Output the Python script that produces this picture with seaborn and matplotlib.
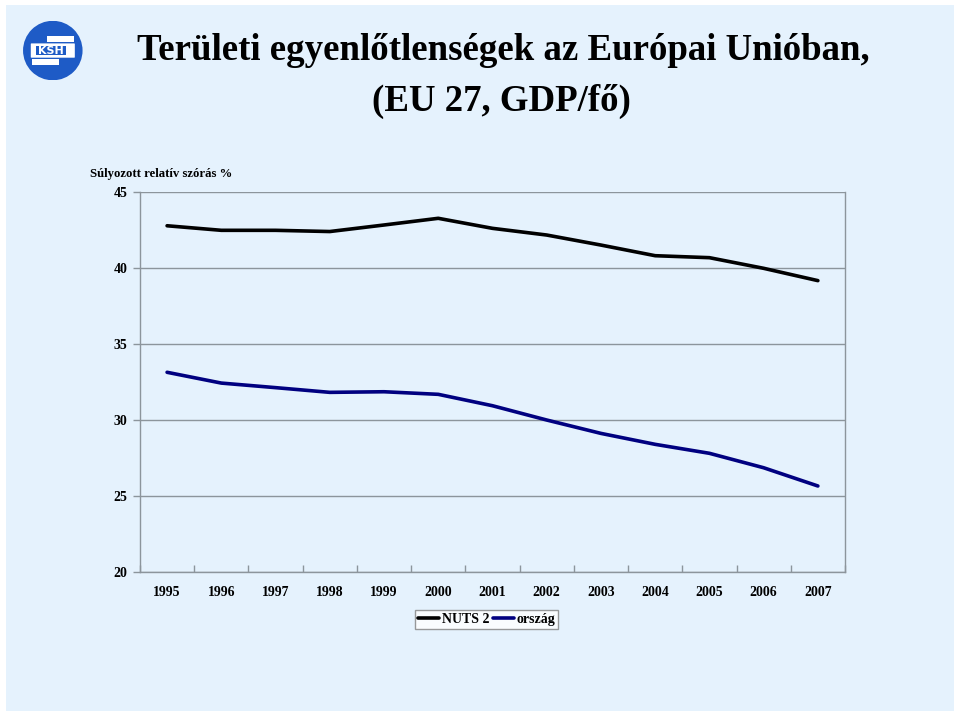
import numpy as np
import pandas as pd
import matplotlib
matplotlib.use("Agg")
import matplotlib.pyplot as plt
from matplotlib.patches import Circle, Rectangle, FancyBboxPatch
from matplotlib.ticker import FixedLocator
import seaborn as sns

# ----------------------------------------------
# Data
# ----------------------------------------------
YEARS = [1995, 1996, 1997, 1998, 1999, 2000, 2001, 2002, 2003, 2004, 2005, 2006, 2007]
NUTS2 = [42.78, 42.48, 42.48, 42.40, 42.83, 43.27, 42.61, 42.17, 41.51, 40.81, 40.68, 39.98, 39.17]
ORSZAG = [33.14, 32.43, 32.13, 31.82, 31.86, 31.69, 30.94, 30.00, 29.12, 28.40, 27.81, 26.86, 25.66]
SERIES_NAMES = ["NUTS 2", "ország"]
Y_TICKS = [20, 25, 30, 35, 40, 45]

TITLE_1 = "Területi egyenlőtlenségek az Európai Unióban,"
TITLE_2 = "(EU 27, GDP/fő)"
Y_LABEL = "Súlyozott relatív szórás %"

BG = "#E5F2FD"
GRID = "#8C959C"
COLORS = {"NUTS 2": "#000000", "ország": "#000080"}

df = pd.DataFrame({
    "year": [str(y) for y in YEARS] * 2,
    "value": NUTS2 + ORSZAG,
    "series": [SERIES_NAMES[0]] * len(YEARS) + [SERIES_NAMES[1]] * len(YEARS),
})

sns.set_theme(style="white")
plt.rcParams["font.family"] = ["Liberation Serif", "DejaVu Serif"]
plt.rcParams["font.weight"] = "bold"
plt.rcParams["text.color"] = "black"
plt.rcParams["xtick.labelcolor"] = "black"
plt.rcParams["ytick.labelcolor"] = "black"

fig = plt.figure(figsize=(9.6, 7.17), dpi=100)
fig.patch.set_facecolor("white")
fig.patches.append(Rectangle((0.006, 0.008), 0.988, 0.985, transform=fig.transFigure,
                             facecolor=BG, edgecolor="none", zorder=-10))

ax = fig.add_axes([0.1458, 0.2022, 0.7344, 0.5300])
ax.set_facecolor(BG)

sns.lineplot(data=df, x="year", y="value", hue="series", palette=COLORS,
             linewidth=2.6, sort=False, ax=ax, legend=True)

ax.set_xlim(-0.5, len(YEARS) - 0.5)
ax.set_ylim(20, 45)
ax.set_yticks(Y_TICKS)
ax.yaxis.grid(True, color=GRID, linewidth=1.0)
ax.set_axisbelow(True)
for s in ["left", "bottom", "right"]:
    ax.spines[s].set_color(GRID)
    ax.spines[s].set_linewidth(1.0)
ax.spines["top"].set_visible(False)

ax.tick_params(axis="y", which="major", direction="out", length=5, width=1,
               color=GRID, labelsize=10, pad=4, left=True, labelcolor="black")
ax.tick_params(axis="x", which="major", length=0, labelsize=10, pad=10, labelcolor="black")
ax.xaxis.set_minor_locator(FixedLocator(np.arange(-0.5, len(YEARS), 1.0)))
ax.tick_params(axis="x", which="minor", direction="in", length=5, width=1,
               color=GRID, bottom=True)
for lab in ax.get_xticklabels() + ax.get_yticklabels():
    lab.set_fontweight("bold")
ax.set_xlabel("")
ax.set_ylabel("")

# legend below the plot
handles, labels = ax.get_legend_handles_labels()
leg = ax.legend(handles, labels, loc="center", bbox_to_anchor=(0.507, 0.136),
                bbox_transform=fig.transFigure, ncol=2, frameon=True,
                fancybox=False, prop={"weight": "bold", "size": 10},
                handlelength=1.5, handletextpad=0.2, columnspacing=0.3,
                borderpad=0.2, borderaxespad=0)
leg.get_frame().set_edgecolor("#808080")
leg.get_frame().set_facecolor("white")
leg.get_frame().set_linewidth(1.0)
for t in leg.get_texts():
    t.set_color("black")

# titles
fig.text(0.524, 0.930, TITLE_1, ha="center", va="center", fontsize=26.6,
         fontweight="bold", color="black")
fig.text(0.522, 0.858, TITLE_2, ha="center", va="center", fontsize=26.6,
         fontweight="bold", color="black")
fig.text(0.094, 0.758, Y_LABEL, ha="left", va="center", fontsize=9.2,
         fontweight="bold", color="black")

# KSH logo (simple drawing)
lax = fig.add_axes([0.024, 0.888, 0.062, 0.083])
lax.set_xlim(-1, 1)
lax.set_ylim(-1, 1)
lax.set_aspect("equal")
lax.axis("off")
lax.add_patch(Circle((0, 0), 1.0, facecolor="#1E5BC6", edgecolor="none"))
lax.add_patch(FancyBboxPatch((-0.72, -0.22), 1.44, 0.44, boxstyle="round,pad=0.02",
                             facecolor="white", edgecolor="none"))
lax.add_patch(Rectangle((-0.55, -0.15), 1.0, 0.3, facecolor="#1E5BC6", edgecolor="none"))
lax.text(-0.05, 0.0, "KSH", ha="center", va="center", color="white", fontsize=8,
         fontweight="bold", family=["DejaVu Sans"])
lax.add_patch(Rectangle((-0.2, 0.3), 0.9, 0.18, facecolor="white", edgecolor="none"))
lax.add_patch(Rectangle((-0.7, -0.48), 0.9, 0.18, facecolor="white", edgecolor="none"))

fig.savefig("out.png", dpi=100, facecolor=fig.get_facecolor())
